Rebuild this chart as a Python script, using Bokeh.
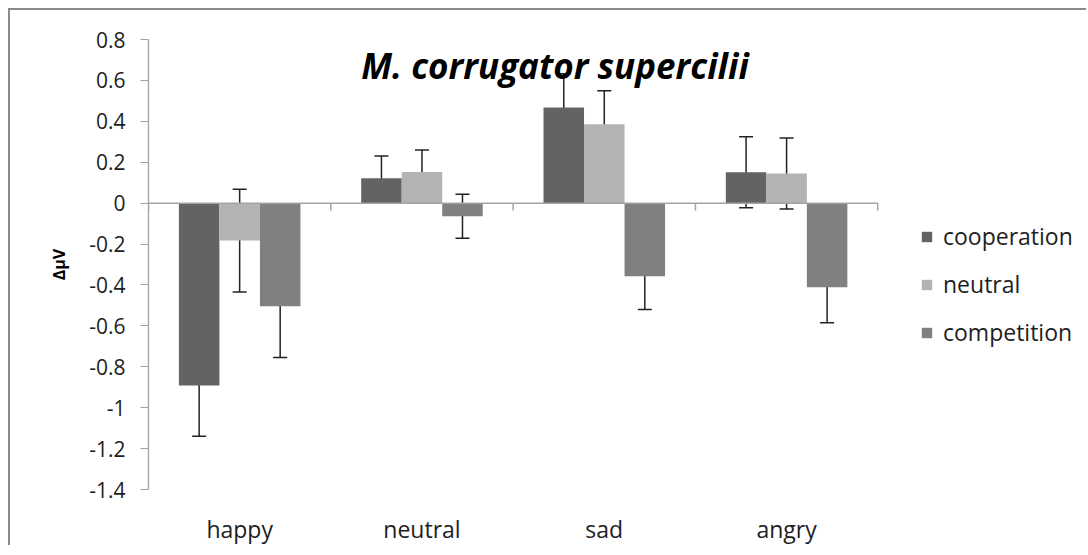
from bokeh.plotting import figure
from bokeh.models import (Range1d, Whisker, ColumnDataSource, Legend, LegendItem, Label,
                          FixedTicker, CustomJSTickFormatter, TeeHead)
from bokeh.embed import file_html
from bokeh.resources import INLINE

categories = ["happy", "neutral", "sad", "angry"]
series = ["cooperation", "neutral", "competition"]
cooperation = [-0.892, 0.122, 0.467, 0.151]
neutral = [-0.183, 0.152, 0.386, 0.145]
competition = [-0.504, -0.064, -0.358, -0.411]
err_cooperation = [0.248, 0.108, 0.165, 0.174]
err_neutral = [0.251, 0.108, 0.163, 0.174]
err_competition = [0.251, 0.108, 0.162, 0.174]
colors = ["#636363", "#b3b3b3", "#808080"]
y_ticks = [-1.4, -1.2, -1.0, -0.8, -0.6, -0.4, -0.2, 0.0, 0.2, 0.4, 0.6, 0.8]

FONT = "Open Sans"
TXT = "#1e1e1e"
AXC = "#a3a3a3"

n = len(categories)
centers = [i + 0.5 for i in range(n)]

p = figure(width=1078, height=537, x_range=Range1d(0, 5.156), y_range=Range1d(-1.4, 0.8),
           output_backend="svg", toolbar_location=None,
           min_border_left=138, min_border_right=0, min_border_top=29, min_border_bottom=53)
p.styles = {"margin-left": "8px", "margin-top": "8px",
            "border-left": "2px solid #8a8a8a", "border-top": "2px solid #8a8a8a"}
p.outline_line_color = None
p.xgrid.grid_line_color = None
p.ygrid.grid_line_color = None

w = 1 / 4.5
offsets = [-w, 0.0, w]
vals = [cooperation, neutral, competition]
errs = [err_cooperation, err_neutral, err_competition]

items = []
for name, v, e, off, c in zip(series, vals, errs, offsets, colors):
    src = ColumnDataSource(dict(x=[cx + off for cx in centers], val=v,
                                upper=[a + b for a, b in zip(v, e)],
                                lower=[a - b for a, b in zip(v, e)]))
    r = p.vbar(x="x", top="val", bottom=0, width=w, source=src, fill_color=c, line_color=None)
    items.append(LegendItem(label=name, renderers=[r]))
    wh = Whisker(source=src, base="x", upper="upper", lower="lower",
                 line_color="#222222", line_width=1.5,
                 upper_head=TeeHead(size=14, line_color="#222222", line_width=1.5),
                 lower_head=TeeHead(size=14, line_color="#222222", line_width=1.5))
    p.add_layout(wh)

# category (zero) axis line and boundary ticks
p.segment(x0=[0], x1=[n], y0=[0], y1=[0], line_color=AXC, line_width=1.5)
bounds = list(range(n + 1))
p.segment(x0=bounds, x1=bounds, y0=[0] * len(bounds), y1=[-0.036] * len(bounds),
          line_color=AXC, line_width=1.5)

# y axis
ya = p.yaxis[0]
ya.ticker = FixedTicker(ticks=y_ticks)
ya.formatter = CustomJSTickFormatter(code="return (Math.round(tick*10)/10).toString();")
ya.minor_tick_line_color = None
ya.major_tick_in = 0
ya.major_tick_out = 8
ya.axis_line_color = AXC
ya.major_tick_line_color = AXC
ya.axis_line_width = 1.3
ya.major_label_text_font = FONT
ya.major_label_text_font_size = "21px"
ya.major_label_text_color = TXT
ya.major_label_standoff = 15
ya.axis_label = "ΔμV"
ya.axis_label_text_font = FONT
ya.axis_label_text_font_size = "16px"
ya.axis_label_text_font_style = "bold"
ya.axis_label_text_color = "#000000"
ya.axis_label_standoff = 16

# x axis: category names under each group
xa = p.xaxis[0]
xa.ticker = FixedTicker(ticks=centers)
xa.formatter = CustomJSTickFormatter(args=dict(cats=categories),
                                     code="return cats[Math.floor(tick)] || '';")
xa.axis_line_color = None
xa.major_tick_line_color = None
xa.minor_tick_line_color = None
xa.major_label_text_font = FONT
xa.major_label_text_font_size = "23px"
xa.major_label_text_color = TXT
xa.major_label_standoff = 17

# title inside the plot
p.add_layout(Label(x=2.23, y=0.674, text="M. corrugator supercilii",
                   text_align="center", text_baseline="alphabetic",
                   text_font=FONT, text_font_size="35px",
                   text_font_style="bold italic", text_color="#000000"))

legend = Legend(items=items, location=(772, 141), orientation="vertical",
                border_line_color=None, background_fill_alpha=0, padding=0, margin=0,
                spacing=16, glyph_width=13, glyph_height=13, label_standoff=10,
                label_text_font=FONT, label_text_font_size="23px", label_text_color=TXT,
                label_height=30)
p.add_layout(legend)

open("out.html", "w").write(file_html(p, INLINE))
